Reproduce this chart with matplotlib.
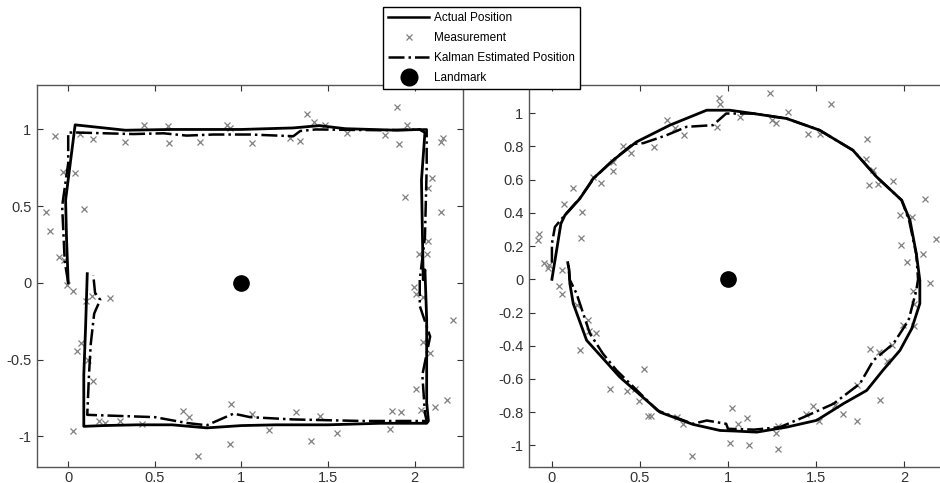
import matplotlib
matplotlib.use("Agg")
import matplotlib.pyplot as plt
from matplotlib.lines import Line2D

plt.rcParams['font.family'] = ['Liberation Sans', 'DejaVu Sans']

# --- square run (left) ---
sq_true_x = [0, -0.01, -0.015, 0.04, 0.33, 0.6, 1.0, 1.3, 1.45, 1.6, 1.9, 2.03, 2.06, 2.04, 2.05,
             2.06, 2.07, 2.07, 2.08, 2.07, 1.8, 1.5, 1.2, 1.0, 0.8, 0.6, 0.4, 0.2, 0.09, 0.09, 0.1, 0.11]
sq_true_y = [0, 0.3, 0.54, 1.03, 0.995, 1.0, 1.0, 1.01, 1.025, 1.005, 0.995, 1.0, 0.98, 0.67, 0.02,
             0.085, -0.24, -0.78, -0.9, -0.915, -0.915, -0.925, -0.925, -0.93, -0.945, -0.925, -0.925,
             -0.93, -0.935, -0.6, -0.3, 0.06]
sq_kal_x = [0, -0.02, -0.035, 0.0, 0.0, 0.05, 0.375, 0.55, 0.684, 0.84, 1.05, 1.3, 1.34, 1.43, 1.8,
            2.07, 2.07, 2.06, 2.03, 2.03, 2.09, 2.045, 2.06, 2.07, 1.7, 1.3, 1.05, 0.955, 0.8, 0.684,
            0.5, 0.11, 0.12, 0.13, 0.15, 0.185, 0.155, 0.145]
sq_kal_y = [0, 0.14, 0.5, 0.78, 0.98, 0.98, 0.97, 0.975, 0.96, 0.967, 0.967, 0.956, 0.99, 1.0, 0.995,
            1.0, 0.75, 0.3, 0.02, -0.15, -0.35, -0.6, -0.85, -0.9, -0.9, -0.89, -0.875, -0.852, -0.928,
            -0.913, -0.875, -0.86, -0.6, -0.4, -0.2, -0.11, -0.065, 0.05]
sq_meas_x = [-0.075, 0.07, 0.146, 0.33, 0.435, 0.576, 0.58, 0.763, 0.917, 0.936, -0.03, 0.04, -0.127,
             0.09, -0.104, -0.056, -0.027, -0.008, 0.03, 0.104, 0.139, 0.243, 0.073, 0.05, 0.116,
             0.146, 0.03, 0.175, 0.21, 0.3, 0.426, 0.663, 0.696, 0.75, 0.936, 0.942, 1.38, 1.418,
             1.48, 1.337, 1.283, 1.06, 1.61, 1.827, 1.9, 1.958, 1.913, 2.164, 2.154, 2.1, 2.077,
             1.942, 2.154, 2.08, 2.025, 2.073, 1.996, 2.01, 2.05, 2.05, 2.09, 2.01, 2.19, 2.117,
             2.035, 1.92, 1.87, 1.86, 1.553, 1.452, 1.403, 1.318, 1.158, 1.06, 2.22]
sq_meas_y = [0.96, 0.97, 0.94, 0.92, 1.03, 1.02, 0.91, 0.915, 1.03, 1.01, 0.72, 0.715, 0.46, 0.48,
             0.34, 0.17, 0.15, -0.013, -0.05, -0.12, -0.085, -0.1, -0.394, -0.447, -0.503, -0.64,
             -0.963, -0.9, -0.91, -0.9, -0.917, -0.835, -0.874, -1.13, -1.05, -0.79, 1.098, 1.05,
             1.026, 0.928, 0.946, 0.913, 0.974, 0.967, 1.148, 1.028, 0.908, 0.946, 0.917, 0.684,
             0.619, 0.56, 0.464, 0.276, 0.187, 0.187, -0.024, -0.072, -0.09, -0.384, -0.46, -0.69,
             -0.765, -0.81, -0.826, -0.84, -0.835, -0.95, -0.976, -0.867, -1.033, -0.84, -0.96,
             -0.856, -0.24]

# --- circle run (right) ---
ci_true_x = [0, 0.051, 0.074, 0.159, 0.235, 0.348, 0.48, 0.67, 0.879, 1.01, 1.144, 1.333, 1.52, 1.71,
             1.845, 1.987, 2.034, 2.07, 2.09, 2.09, 2.044, 1.977, 1.88, 1.788, 1.655, 1.504, 1.333,
             1.163, 1.05, 0.955, 0.80, 0.614, 0.386, 0.197, 0.121, 0.102, 0.098, 0.09]
ci_true_y = [0, 0.335, 0.386, 0.486, 0.607, 0.717, 0.827, 0.928, 1.018, 1.018, 0.998, 0.968, 0.898,
             0.777, 0.616, 0.476, 0.355, 0.155, -0.006, -0.146, -0.297, -0.428, -0.548, -0.669,
             -0.749, -0.849, -0.89, -0.92, -0.914, -0.91, -0.873, -0.8, -0.589, -0.367, -0.146,
             -0.026, 0.054, 0.1]
ci_kal_x = [0.0, 0.0, 0.017, 0.06, 0.16, 0.24, 0.35, 0.46, 0.52, 0.65, 0.765, 0.915, 0.99, 1.144, 1.333,
            1.52, 1.71, 1.845, 1.987, 2.03, 2.07, 2.08, 2.07, 2.026, 1.94, 1.826, 1.75, 1.6, 1.43,
            1.295, 1.15, 1.0, 0.99, 0.88, 0.8, 0.6, 0.367, 0.29, 0.216, 0.14, 0.1, 0.093]
ci_kal_y = [0.1, 0.215, 0.315, 0.37, 0.49, 0.61, 0.72, 0.815, 0.82, 0.867, 0.918, 0.928, 0.998, 0.998,
            0.968, 0.898, 0.777, 0.616, 0.476, 0.35, 0.15, 0.0, -0.066, -0.247, -0.387, -0.488,
            -0.628, -0.749, -0.83, -0.89, -0.905, -0.9, -0.87, -0.85, -0.87, -0.79, -0.548, -0.448,
            -0.327, -0.086, 0.0, 0.104]
ci_meas_x = [-0.072, -0.078, -0.044, -0.015, -0.021, 0.055, 0.068, 0.121, 0.169, 0.163, 0.235, 0.277,
             0.348, 0.348, 0.402, 0.449, 0.58, 0.651, 0.699, 0.752, 0.947, 0.955, 0.94, 1.068, 1.239,
             1.248, 1.273, 1.343, 1.453, 1.523, 1.585, 1.788, 1.784, 1.822, 1.801, 1.85, 1.935,
             2.119, 1.977, 2.044, 2.18, 1.983, 2.106, 2.019, 2.148, 2.049, 2.059, 2.059, 1.993,
             1.934, 1.86, 1.902, 1.807, 1.864, 1.731, 1.731, 1.655, 1.608, 1.485, 1.519, 1.443,
             1.286, 1.273, 1.282, 1.021, 1.055, 1.11, 1.011, 1.121, 0.04, 0.055, 0.14, 0.206,
             0.212, 0.25, 0.159, 0.33, 0.523, 0.424, 0.472, 0.496, 0.544, 0.563, 0.712, 0.746, 0.793]
ci_meas_y = [0.275, 0.235, 0.098, 0.084, 0.07, 0.058, 0.452, 0.552, 0.404, 0.251, 0.616, 0.582, 0.652,
             0.707, 0.803, 0.761, 0.797, 0.962, 0.912, 0.867, 1.094, 1.054, 0.918, 0.978, 1.119,
             0.962, 0.938, 1.008, 0.873, 0.877, 1.058, 0.843, 0.727, 0.661, 0.566, 0.572, 0.59,
             0.482, 0.386, 0.375, 0.245, 0.205, 0.155, 0.104, -0.022, -0.07, -0.15, -0.283, -0.277,
             -0.398, -0.438, -0.492, -0.422, -0.729, -0.639, -0.853, -0.813, -0.759, -0.763,
             -0.853, -0.813, -0.886, -0.926, -1.024, -0.773, -0.869, -0.835, -0.986, -0.996, -0.04,
             -0.086, -0.157, -0.247, -0.311, -0.323, -0.424, -0.663, -0.538, -0.673, -0.659,
             -0.733, -0.823, -0.825, -0.829, -0.87, -1.064]

landmark = (1.0, 0.0)

sq_xticks = [0, 0.5, 1, 1.5, 2]
sq_yticks = [-1, -0.5, 0, 0.5, 1]
ci_xticks = [0, 0.5, 1, 1.5, 2]
ci_yticks = [-1, -0.8, -0.6, -0.4, -0.2, 0, 0.2, 0.4, 0.6, 0.8, 1]

fig = plt.figure(figsize=(9.4, 4.83), dpi=100, facecolor='white')
ax1 = fig.add_axes([0.0394, 0.0331, 0.4532, 0.791])
ax2 = fig.add_axes([0.5628, 0.0331, 0.4532, 0.791])


def draw(ax, tx, ty, kx, ky, mx, my):
    ax.plot(mx, my, 'x', color='#808080', markersize=4.5, markeredgewidth=0.9, zorder=2)
    ax.plot(tx, ty, '-', color='black', linewidth=2.0, zorder=3)
    ax.plot(kx, ky, '-.', color='black', linewidth=1.8, zorder=4)
    ax.plot(landmark[0], landmark[1], 'o', color='black', markersize=11, zorder=5)
    ax.tick_params(direction='in', top=True, right=True, length=4, labelsize=10.5,
                   colors='#333333', pad=4)
    ax.tick_params(axis='x', pad=3)
    for s in ax.spines.values():
        s.set_color('#555555')
        s.set_linewidth(1.0)


draw(ax1, sq_true_x, sq_true_y, sq_kal_x, sq_kal_y, sq_meas_x, sq_meas_y)
ax1.set_xlim(-0.18, 2.28)
ax1.set_ylim(-1.2, 1.29)
ax1.set_xticks(sq_xticks)
ax1.set_xticklabels(['0', '0.5', '1', '1.5', '2'])
ax1.set_yticks(sq_yticks)
ax1.set_yticklabels(['-1', '-0.5', '0', '0.5', '1'])

draw(ax2, ci_true_x, ci_true_y, ci_kal_x, ci_kal_y, ci_meas_x, ci_meas_y)
ax2.set_xlim(-0.13, 2.29)
ax2.set_ylim(-1.13, 1.17)
ax2.set_xticks(ci_xticks)
ax2.set_xticklabels(['0', '0.5', '1', '1.5', '2'])
ax2.set_yticks(ci_yticks)
ax2.set_yticklabels(['-1', '-0.8', '-0.6', '-0.4', '-0.2', '0', '0.2', '0.4', '0.6', '0.8', '1'])

handles = [
    Line2D([], [], color='black', linewidth=1.8, linestyle='-'),
    Line2D([], [], color='#808080', marker='x', linestyle='none', markersize=4.5, markeredgewidth=0.9),
    Line2D([], [], color='black', linewidth=1.8, linestyle='-.'),
    Line2D([], [], color='black', marker='o', linestyle='none', markersize=12),
]
labels = ['Actual Position', 'Measurement', 'Kalman Estimated Position', 'Landmark']
leg = fig.legend(handles, labels, loc='upper center', bbox_to_anchor=(0.512, 0.9855),
                 fontsize=8.5, frameon=True, fancybox=False, edgecolor='black',
                 handlelength=3.5, handletextpad=0.35, labelspacing=0.67, borderpad=0.45,
                 borderaxespad=0.0, framealpha=1.0)
leg.get_frame().set_linewidth(1.0)
leg.set_zorder(10)

fig.savefig('out.png', dpi=100, facecolor='white')
